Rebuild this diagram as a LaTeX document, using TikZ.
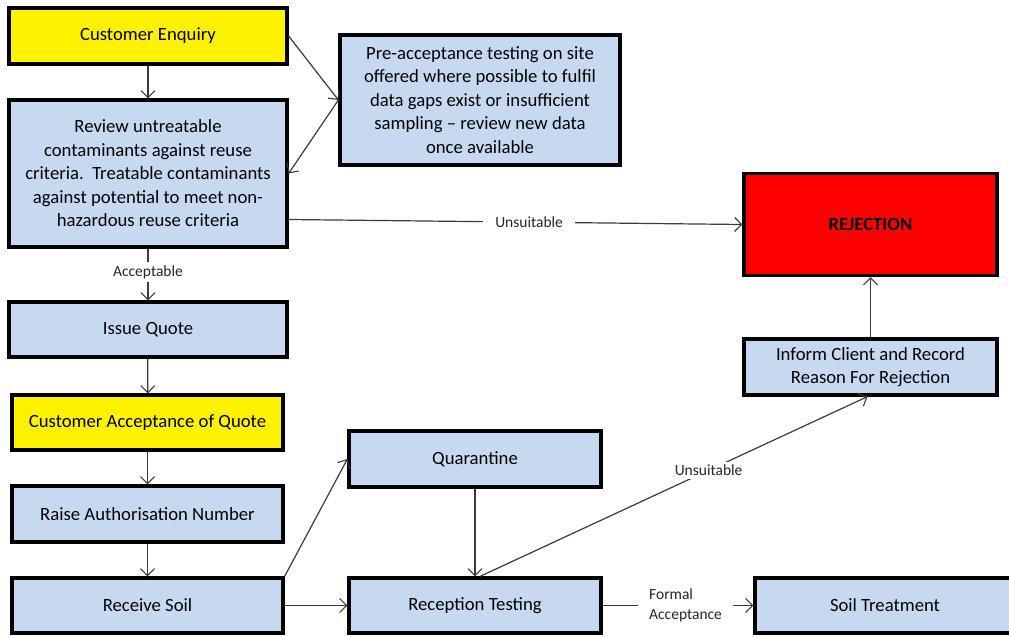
\documentclass[tikz,border=0pt]{standalone}
\usepackage{fontspec}
\setmainfont{Carlito}
\usetikzlibrary{arrows.meta}
\definecolor{boxblue}{HTML}{C6D9F1}
\definecolor{linegray}{HTML}{3A3A3A}
\tikzset{
  box/.style={draw=black, line width=3.2pt, fill=boxblue, align=center, font=\fontsize{18.7}{23.5}\selectfont, inner sep=0pt},
  ybox/.style={box, fill=yellow},
  rbox/.style={box, fill=red, font=\fontsize{18.7}{23.5}\selectfont\bfseries},
  conn/.style={draw=linegray, line width=1.2pt, -{Straight Barb[length=7pt,width=14pt,line width=1.1pt]}},
  lbl/.style={fill=white, font=\fontsize{15.5}{18}\selectfont, inner xsep=9pt, inner ysep=3pt, text=black!85},
}
\begin{document}
\begin{tikzpicture}[x=1pt,y=-1pt]
\useasboundingbox (0,0) rectangle (1009,637);
\node[ybox, minimum width=278pt, minimum height=56pt] (enq) at (148,36) {Customer Enquiry};
\node[box, minimum width=278pt, minimum height=147pt] (rev) at (148,173.5) {Review untreatable\\contaminants against reuse\\criteria.\ \ Treatable contaminants\\against potential to meet non-\\hazardous reuse criteria};
\node[box, minimum width=280pt, minimum height=130pt] (pre) at (480,100) {Pre-acceptance testing on site\\offered where possible to fulfil\\data gaps exist or insufficient\\sampling – review new data\\once available};
\node[rbox, minimum width=253pt, minimum height=102pt] (rej) at (870.5,224.5) {REJECTION};
\node[box, minimum width=278pt, minimum height=55pt] (iq) at (148,329.5) {Issue Quote};
\node[ybox, minimum width=271pt, minimum height=55pt] (caq) at (147.5,422.5) {Customer Acceptance of Quote};
\node[box, minimum width=271pt, minimum height=56pt] (ran) at (147.5,514) {Raise Authorisation Number};
\node[box, minimum width=271pt, minimum height=55pt] (rs) at (147.5,605.5) {Receive Soil};
\node[box, minimum width=252pt, minimum height=56pt] (qua) at (475,459) {Quarantine};
\node[box, minimum width=252pt, minimum height=55pt] (rt) at (475,605.5) {Reception Testing};
\node[box, minimum width=260pt, minimum height=55pt] (st) at (885,605.5) {Soil Treatment};
\node[box, minimum width=253pt, minimum height=56pt] (inf) at (870.5,367) {Inform Client and Record\\Reason For Rejection};

\draw[conn] (enq) -- (rev);
\draw[conn] (enq.east) -- (pre.west);
\draw[conn] (pre.west) -- (rev.east);
\draw[conn] ([yshift=-46pt]rev.east) -- node[lbl, pos=0.53, inner xsep=12pt] {Unsuitable} (rej.west);
\draw[conn] (rev) -- node[lbl, pos=0.45, inner xsep=3pt] {Acceptable} (iq);
\draw[conn] (iq) -- (caq);
\draw[conn] (caq) -- (ran);
\draw[conn] (ran) -- (rs);
\draw[conn] (rs.north east) -- (qua.west);
\draw[conn] (rs) -- (rt);
\draw[conn] (qua) -- (rt);
\draw[conn] ([xshift=5pt]rt.north) -- node[lbl, pos=0.59, inner xsep=2pt] {Unsuitable} ([xshift=-3pt]inf.south);
\draw[conn] (inf) -- (rej);
\draw[conn] (rt) -- node[lbl, pos=0.55, align=left, inner xsep=11pt, font=\fontsize{15.5}{20}\selectfont] {Formal\\Acceptance} (st);
\end{tikzpicture}
\end{document}
